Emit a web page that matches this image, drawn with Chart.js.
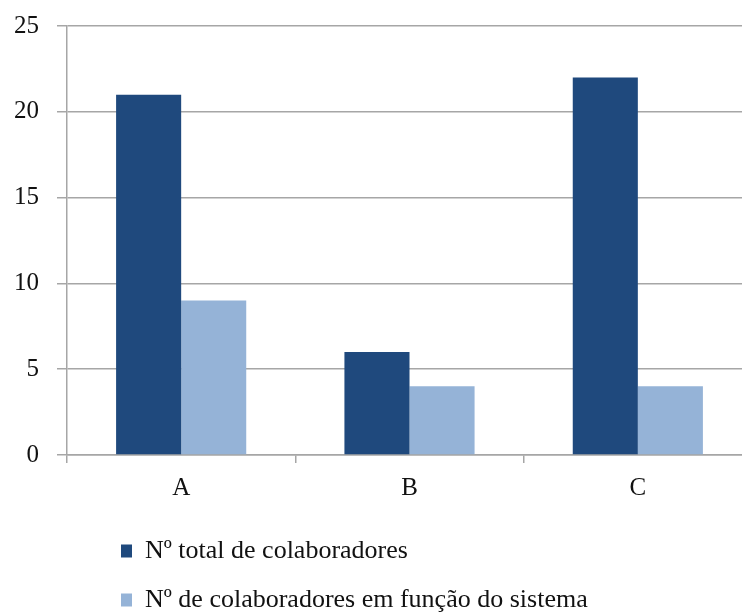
<!DOCTYPE html>
<html>
<head>
<meta charset="utf-8">
<script src="https://cdn.jsdelivr.net/npm/chart.js@4"></script>
<style>
    body { margin: 0; background: #fff; overflow: hidden; }
    #wrap { width: 742px; height: 614px; overflow: hidden; }
</style>
</head>
<body>
<div id="wrap">
    <canvas id="chart" width="752" height="623"></canvas>
</div>
<script>
// chart data
const categories = ["A", "B", "C"];
const totalColaboradores = [21, 6, 22];
const colaboradoresSistema = [9, 4, 4];
const yTicks = [0, 5, 10, 15, 20, 25];

const seriesNames = ["Nº total de colaboradores", "Nº de colaboradores em função do sistema"];
const seriesColors = ["#1f497d", "#95b3d7"];

const gridColor = "#a6a6a6";
const fontFamily = "'Liberation Serif', 'Times New Roman', serif";

// move the legend rows right so they start under the first bar, like the original
const legendShift = {
    id: "legendShift",
    afterLayout: function (chart) {
        chart.legend.left += 31;
        chart.legend.right += 31;
    }
};

const chart = new Chart(document.getElementById("chart").getContext("2d"), {
    type: "bar",
    data: {
        labels: categories,
        datasets: [
            { label: seriesNames[0], data: totalColaboradores, backgroundColor: seriesColors[0] },
            { label: seriesNames[1], data: colaboradoresSistema, backgroundColor: seriesColors[1] }
        ]
    },
    options: {
        responsive: false,
        animation: false,
        layout: { padding: { top: 26, right: 0, left: 0, bottom: 0 } },
        datasets: {
            bar: { barPercentage: 1, categoryPercentage: 0.57 }
        },
        plugins: {
            legend: {
                position: "bottom",
                align: "start",
                fullSize: false,
                labels: {
                    boxWidth: 11,
                    boxHeight: 13,
                    padding: 23,
                    color: "#111",
                    font: { family: fontFamily, size: 26 }
                }
            },
            tooltip: { enabled: false }
        },
        scales: {
            x: {
                grid: { offset: true, drawOnChartArea: false, color: gridColor, lineWidth: 1.5, tickLength: 8 },
                border: { color: gridColor, width: 1.5 },
                ticks: { color: "#111", padding: 10, font: { family: fontFamily, size: 25 } },
                afterFit: function (scale) { scale.height = 60; }
            },
            y: {
                min: 0,
                max: 25,
                afterBuildTicks: function (scale) { scale.ticks = yTicks.map(v => ({ value: v })); },
                grid: { color: gridColor, lineWidth: 1.5, tickLength: 10 },
                border: { color: gridColor, width: 1.5 },
                ticks: { color: "#111", padding: 18, font: { family: fontFamily, size: 25, lineHeight: 0.64 } },
                afterFit: function (scale) { scale.width = 67; }
            }
        }
    },
    plugins: [legendShift]
});
</script>
</body>
</html>
